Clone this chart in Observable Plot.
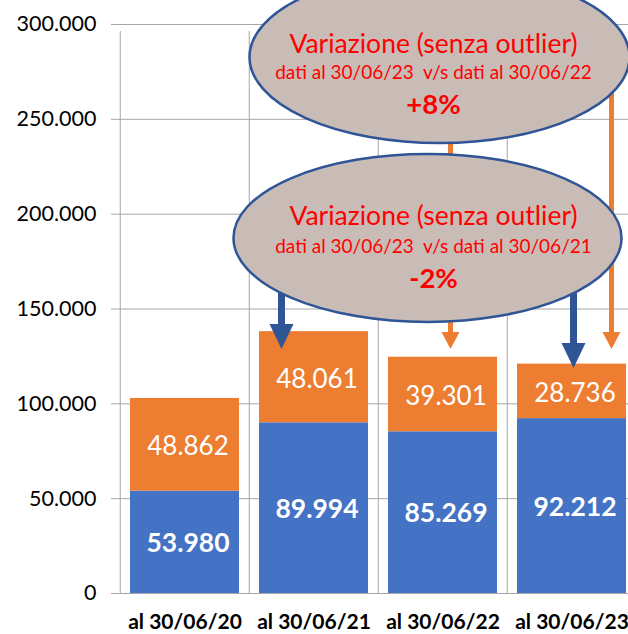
<!DOCTYPE html>
<html><head><meta charset="utf-8">
<script src="https://cdn.jsdelivr.net/npm/d3@7"></script>
<script src="https://cdn.jsdelivr.net/npm/@observablehq/plot@0.6"></script>
<style>
html,body{margin:0;padding:0;background:#fff;overflow:hidden;}
#chart{width:628px;height:634px;overflow:hidden;position:relative;}
#chart svg{overflow:hidden;}
</style></head><body><div id="chart"></div>
<script>
// ---- data ----
const categories = ["al 30/06/20", "al 30/06/21", "al 30/06/22", "al 30/06/23"];
const seriesNames = ["blu", "arancio"];
const blueValues = [53980, 89994, 85269, 92212];
const orangeValues = [48862, 48061, 39301, 28736];
const yTicks = [0, 50000, 100000, 150000, 200000, 250000, 300000];
const noteTitles = ["Variazione (senza outlier)", "Variazione (senza outlier)"];
const noteSubtitles = ["dati al 30/06/23  v/s dati al 30/06/22", "dati al 30/06/23  v/s dati al 30/06/21"];
const noteValues = ["+8%", "-2%"];
// arrows: which note they leave from, which bar they point to, and the value where the tip lands
const arrowNote = [1, 1, 0, 0];
const arrowCategory = ["al 30/06/21", "al 30/06/23", "al 30/06/22", "al 30/06/23"];
const arrowTipValue = [128600, 118600, 128600, 128600];

// ---- layout / style (not data) ----
const BLUE = "#4472C4", ORANGE = "#ED7D31", GRID = "#A6A6A6";
const noteLayout = [
  {cat: "al 30/06/22", dx: -3, y: 282600, rx: 190, ry: 86, tx: -6},
  {cat: "al 30/06/22", dx: -15, y: 187200, rx: 194, ry: 84, tx: 6}
];
const noteLineDy = [[-13, 15, 47], [-22, 8, 40]];
const arrowLayout = [
  {dx: -32, color: "#2F5597", w: 7, hw: 24, hl: 25},
  {dx: 2, color: "#2F5597", w: 7, hw: 24, hl: 25},
  {dx: 8, color: ORANGE, w: 5, hw: 18, hl: 17},
  {dx: 40, color: ORANGE, w: 5, hw: 18, hl: 17}
];

const fmt = d3.formatLocale({decimal: ",", thousands: ".", grouping: [3], currency: ["", ""]}).format(",d");

const data = categories.flatMap((c, i) => [
  {cat: c, serie: seriesNames[0], value: blueValues[i]},
  {cat: c, serie: seriesNames[1], value: orangeValues[i]}
]);

const bandHalf = (637 - 119) / categories.length / 2;

const plot = Plot.plot({
  width: 628, height: 634,
  marginLeft: 119, marginRight: 0, marginTop: 24, marginBottom: 41,
  style: {fontFamily: "Lato, 'Open Sans', sans-serif", background: "white", color: "black"},
  x: {domain: categories, range: [119, 637], padding: 0, label: null},
  y: {domain: [0, 300000], label: null},
  color: {domain: seriesNames, range: [BLUE, ORANGE]},
  marks: [
    Plot.ruleY(yTicks, {stroke: GRID, strokeWidth: 1}),
    Plot.ruleX(categories, {x: d => d, dx: -bandHalf, y1: 0, y2: 300000, insetBottom: -7, stroke: GRID, strokeWidth: 1}),
    Plot.barY(data, {x: "cat", y: "value", fill: "serie", insetLeft: 10, insetRight: 10}),
    Plot.text(categories, {x: d => d, y: (d, i) => blueValues[i] / 2, text: (d, i) => fmt(blueValues[i]),
      fill: "white", fontWeight: "bold", fontSize: 26.5, dx: 3, dy: 1}),
    Plot.text(categories, {x: d => d, y: (d, i) => blueValues[i] + orangeValues[i] / 2, text: (d, i) => fmt(orangeValues[i]),
      fill: "white", fontSize: 26, dx: 3, dy: 2}),
    Plot.axisY({ticks: yTicks, tickFormat: fmt, tickSize: 8, tickPadding: 15, fontSize: 21.5,
      stroke: GRID, fill: "black", label: null}),
    Plot.axisX({tickSize: 0, tickPadding: 21, fontSize: 21, fontWeight: "bold", fill: "black", label: null})
  ]
});
document.getElementById("chart").appendChild(plot);

// ---- annotations, positioned through the plot's scales ----
const xs = plot.scale("x"), ys = plot.scale("y");
const xc = c => xs.apply(c) + xs.bandwidth / 2;
const svg = d3.select(plot);
const layer = svg.append("g");
const notes = noteLayout.map(n => ({cx: xc(n.cat) + n.dx, cy: ys.apply(n.y), ...n}));

arrowLayout.forEach((a, i) => {
  const n = notes[arrowNote[i]];
  const x = xc(arrowCategory[i]) + a.dx;
  const tip = ys.apply(arrowTipValue[i]);
  layer.append("line").attr("x1", x).attr("x2", x).attr("y1", n.cy).attr("y2", tip - a.hl + 1)
    .attr("stroke", a.color).attr("stroke-width", a.w);
  layer.append("path").attr("d", `M${x - a.hw / 2},${tip - a.hl}L${x + a.hw / 2},${tip - a.hl}L${x},${tip}Z`)
    .attr("fill", a.color);
});

notes.forEach((n, i) => {
  layer.append("ellipse").attr("cx", n.cx).attr("cy", n.cy).attr("rx", n.rx).attr("ry", n.ry)
    .attr("fill", "#C9BCB6").attr("stroke", "#2F5597").attr("stroke-width", 2.5);
  const tx = n.cx + n.tx;
  const lines = [
    {t: noteTitles[i], size: 26.5, weight: "normal"},
    {t: noteSubtitles[i], size: 19, weight: "normal"},
    {t: noteValues[i], size: 27.5, weight: "bold"}
  ];
  lines.forEach((l, j) => {
    layer.append("text").attr("x", tx).attr("y", n.cy + noteLineDy[i][j]).attr("dy", "0.35em")
      .attr("text-anchor", "middle").attr("fill", "#FF0000").attr("font-size", l.size)
      .attr("font-weight", l.weight).attr("font-family", "Lato, 'Open Sans', sans-serif")
      .style("white-space", "pre").text(l.t);
  });
});
</script>
</body></html>
